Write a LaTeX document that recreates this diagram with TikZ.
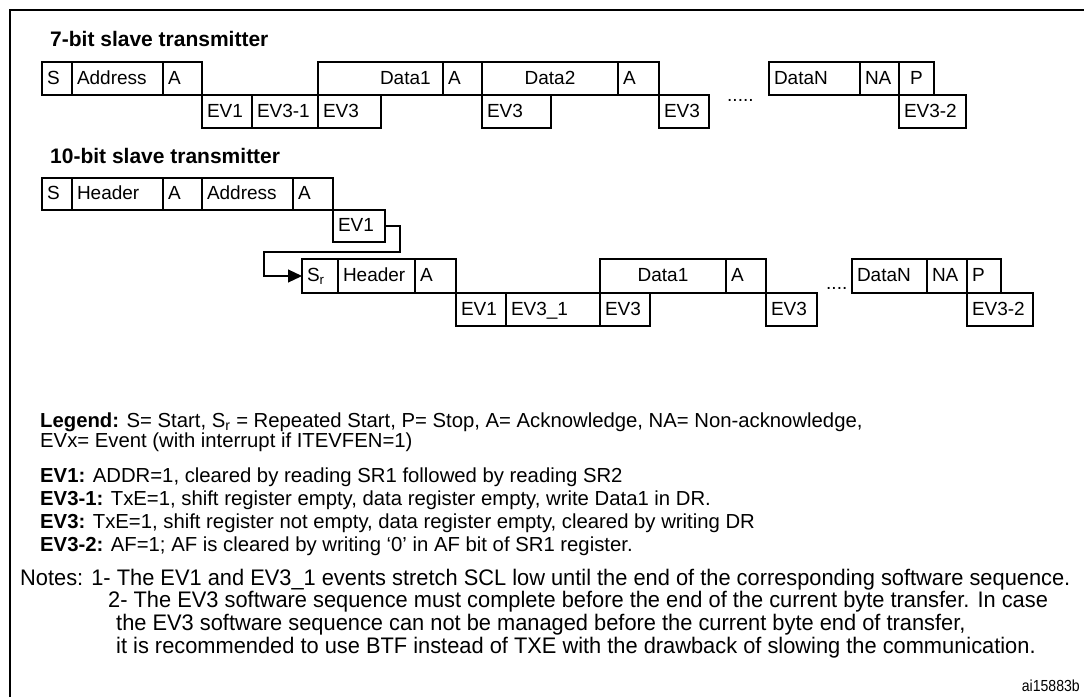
\documentclass[tikz,border=0pt]{standalone}
\usepackage{fontspec}
\setmainfont{Liberation Sans}
\newfontfamily\narrowfont[FakeStretch=0.97]{Liberation Sans}
\newfontfamily\idfont[FakeStretch=0.88]{Liberation Sans}
\usetikzlibrary{arrows.meta}
\newcommand\bx[7][left]{%
  \pgfmathsetmacro\bxw{#5-#3}\pgfmathsetmacro\bxh{#6-#4}\pgfmathsetmacro\bxt{#5-#3-10}%
  \node[box, anchor=north west, minimum width=\bxw pt, minimum height=\bxh pt,
        text width=\bxt pt, align=#1] (#2) at (#3,#4) {#7};}
\begin{document}
\begin{tikzpicture}[x=1pt,y=-1pt,
  box/.style={draw, line width=1.2pt, outer sep=0pt, inner xsep=5pt, inner ysep=0pt,
    text height=12.5pt, text depth=1.5pt, font=\fontsize{19}{22}\selectfont},
  txt/.style={anchor=base west, inner sep=0pt, font=\fontsize{20.3}{22}\selectfont},
  head/.style={anchor=base west, inner sep=0pt, font=\fontsize{21}{24}\selectfont\bfseries},
  note/.style={anchor=base west, inner sep=0pt, font=\fontsize{22.5}{25}\narrowfont},
  dots/.style={anchor=base west, inner sep=0pt, font=\fontsize{19}{22}\selectfont},
  link/.style={line width=1.2pt, -{Triangle[length=14pt,width=13pt]}}]
\useasboundingbox (0,0) rectangle (1084,697);
\draw[line width=2pt] (10,697) -- (10,9.5) -- (1084,9.5);

% 7-bit
\node[head] (h7) at (50,46) {7-bit slave transmitter};
\bx{s1}{42}{62}{72}{95}{S}
\bx{addr1}{72}{62}{163}{95}{Address}
\bx{a1}{163}{62}{202}{95}{A}
\bx{data1a}{318}{62}{443}{95}{\hspace*{57pt}Data1}
\bx{a1b}{443}{62}{482}{95}{A}
\bx[center]{data2}{482}{62}{618}{95}{Data2}
\bx{a1c}{618}{62}{659}{95}{A}
\bx{datan1}{769}{62}{860}{95}{DataN}
\bx{na1}{860}{62}{899}{95}{NA}
\bx[center]{p1}{899}{62}{934}{95}{P}
\bx{ev1a}{202}{95}{252}{128}{EV1}
\bx{ev31}{252}{95}{318}{128}{EV3-1}
\bx{ev3a}{318}{95}{381}{128}{EV3}
\bx{ev3b}{482}{95}{551}{128}{EV3}
\bx{ev3c}{659}{95}{709}{128}{EV3}
\bx{ev32a}{899}{95}{966}{128}{EV3-2}
\node[dots] (dots1) at (727,101) {.....};

% 10-bit
\node[head] (h10) at (50,163) {10-bit slave transmitter};
\bx{s3}{42}{178}{72}{210}{S}
\bx{hdr3}{72}{178}{163}{210}{Header}
\bx{a3}{163}{178}{202}{210}{A}
\bx{addr3}{202}{178}{293}{210}{Address}
\bx{a3b}{293}{178}{333}{210}{A}
\bx{ev1c}{333}{210}{385}{242}{EV1}
\bx{sr}{302}{259}{338}{293}{S\textsubscript{r}}
\bx{hdr4}{338}{259}{415}{293}{Header}
\bx{a4}{415}{259}{456}{293}{A}
\bx[center]{data1b}{600}{259}{726}{293}{Data1}
\bx{a4b}{726}{259}{766}{293}{A}
\bx{datan4}{852}{259}{927}{293}{DataN}
\bx{na4}{927}{259}{967}{293}{NA}
\bx{p4}{967}{259}{1001}{293}{P}
\bx{ev1d}{456}{293}{506}{326}{EV1}
\bx{ev31b}{506}{293}{600}{326}{EV3\_1}
\bx{ev3d}{600}{293}{650}{326}{EV3}
\bx{ev3e}{766}{293}{817}{326}{EV3}
\bx{ev32b}{967}{293}{1033}{326}{EV3-2}
\node[dots] (dots2) at (826,289) {....};
\draw[link] (ev1c.east) -- (400,226) -- (400,252) -- (264,252) |- (sr.west);

% legend
\node[txt] (leg) at (40,427) {\textbf{Legend:} S= Start, S\textsubscript{r} = Repeated Start, P= Stop, A= Acknowledge, NA= Non-acknowledge,};
\node[txt] (evx) at (40,447) {EVx= Event (with interrupt if ITEVFEN=1)};
\node[txt] (d1) at (40,482) {\textbf{EV1:} ADDR=1, cleared by reading SR1 followed by reading SR2};
\node[txt] (d2) at (40,505) {\textbf{EV3-1:} TxE=1, shift register empty, data register empty, write Data1 in DR.};
\node[txt] (d3) at (40,528) {\textbf{EV3:} TxE=1, shift register not empty, data register empty, cleared by writing DR};
\node[txt] (d4) at (40,551) {\textbf{EV3-2:} AF=1; AF is cleared by writing ‘0’ in AF bit of SR1 register.};

% notes
\node[note] (n1) at (20,585) {Notes: 1- The EV1 and EV3\_1 events stretch SCL low until the end of the corresponding software sequence.};
\node[note] (n2) at (108,607) {2- The EV3 software sequence must complete before the end of the current byte transfer. In case};
\node[note] (n3) at (116,630) {the EV3 software sequence can not be managed before the current byte end of transfer,};
\node[note] (n4) at (116,653) {it is recommended to use BTF instead of TXE with the drawback of slowing the communication.};
\node[anchor=base east, inner sep=0pt, font=\fontsize{16}{18}\idfont] (id) at (1080,691) {ai15883b};
\end{tikzpicture}
\end{document}
